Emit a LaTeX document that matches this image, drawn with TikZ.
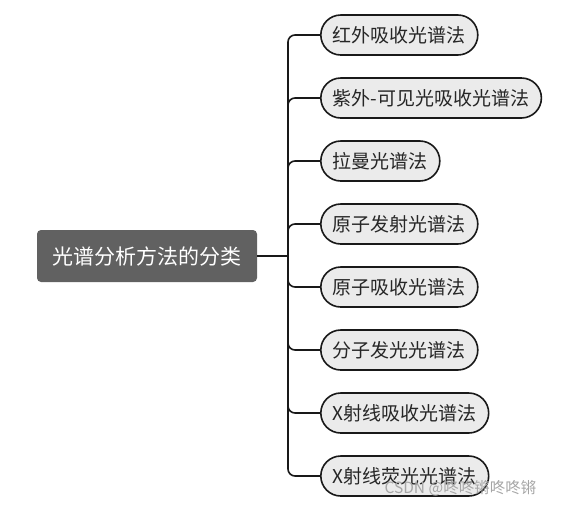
\documentclass[tikz,border=0pt]{standalone}
\usepackage{fontspec}
\setmainfont{Noto Sans CJK SC}
\begin{document}
\begin{tikzpicture}[x=1pt,y=-1pt,
    root/.style={fill=black!62, text=white, rounded corners=4pt,
      minimum width=220pt, minimum height=52pt, font=\fontsize{21}{25}\selectfont},
    leaf/.style={draw=black!90, line width=1.6pt, fill=black!8, text=black!85,
      rounded corners=20pt, minimum height=40pt, inner xsep=12pt, anchor=west,
      font=\fontsize{19}{23}\selectfont},
    branch/.style={draw=black!90, line width=1.6pt, rounded corners=7pt}]
      \useasboundingbox (0,0) rectangle (569,507);

      % root and trunk
      \node (R) [root] at (147,256) {光谱分析方法的分类};
      \coordinate (T) at (288,256);
      \path [branch] (R.east) edge (T);

      % leaves
      \node (C1) [leaf] at (320,35)  {红外吸收光谱法};
      \node (C2) [leaf] at (320,98)  {紫外-可见光吸收光谱法};
      \node (C3) [leaf] at (320,161) {拉曼光谱法};
      \node (C4) [leaf] at (320,224) {原子发射光谱法};
      \node (C5) [leaf] at (320,287) {原子吸收光谱法};
      \node (C6) [leaf] at (320,350) {分子发光光谱法};
      \node (C7) [leaf] at (320,413) {X射线吸收光谱法};
      \node (C8) [leaf] at (320,476) {X射线荧光光谱法};

      \foreach \c in {C1,C2,C3,C4,C5,C6,C7,C8}
        \draw [branch] (T) |- (\c.west);

      % watermark
      \node (W) [anchor=west, text=black!35, font=\fontsize{15.5}{18}\selectfont] at (381,488) {CSDN @咚咚锵咚咚锵};
    \end{tikzpicture}
\end{document}
